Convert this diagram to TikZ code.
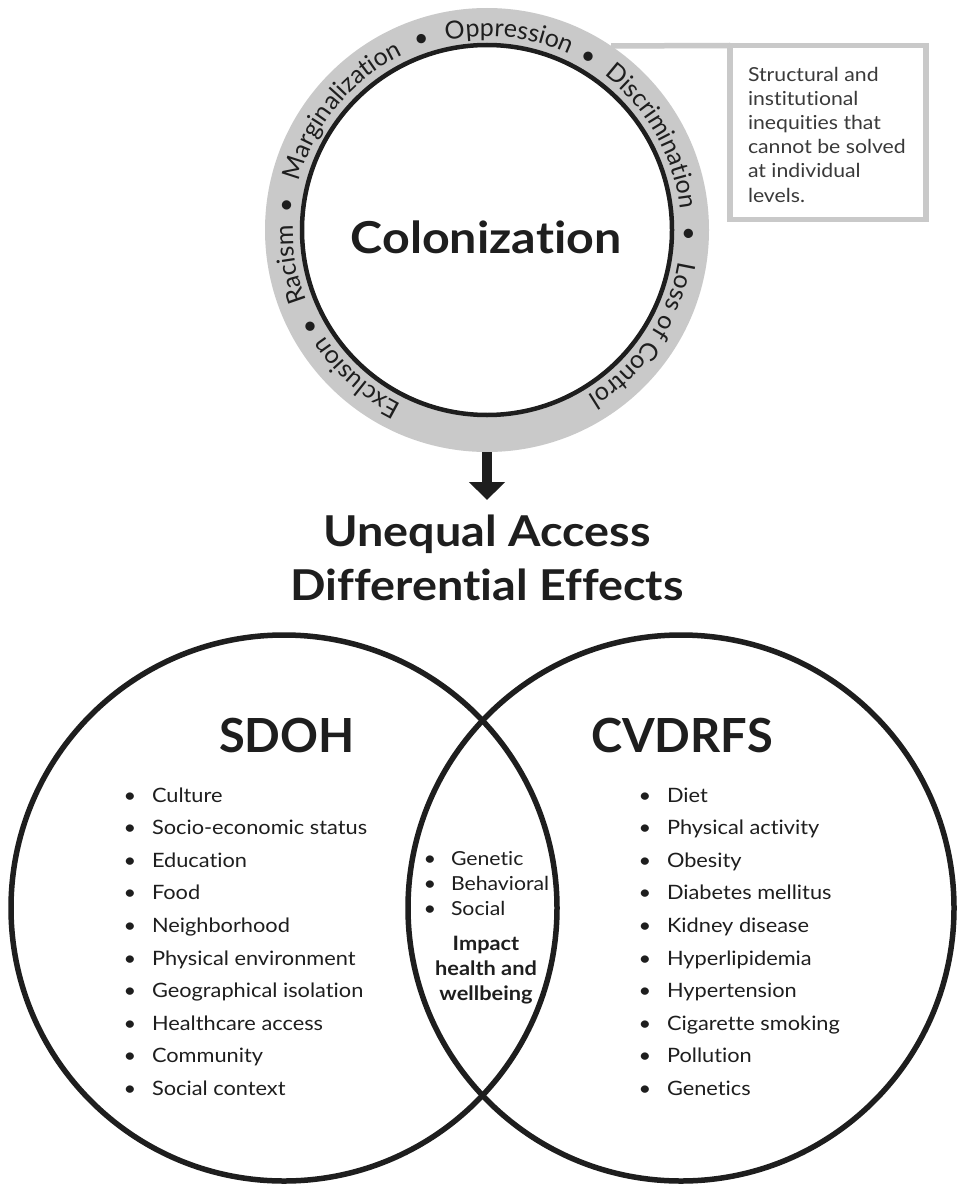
\documentclass[tikz,border=0pt]{standalone}
\usepackage{fontspec}
\setmainfont{Lato}[FakeStretch=1.1, Ligatures={NoCommon,NoContextual}]
\newfontfamily\plainlato{Lato}[Ligatures={NoCommon,NoContextual}]
\usetikzlibrary{decorations.text,arrows.meta}
\definecolor{ringgray}{HTML}{C9C9C9}
\definecolor{ink}{HTML}{1E1E1E}
\definecolor{notetext}{HTML}{3A3A3A}
\newcommand\ringfont{\plainlato\fontsize{25}{25}\selectfont\color{ink}}
\begin{document}
\begin{tikzpicture}[x=1pt,y=1pt,
  every node/.style={inner sep=0pt, outer sep=0pt, text=ink},
  ringword/.style={decorate, decoration={text along path, text align=center, text={|\ringfont|#1}}},
  heading/.style={font=\fontsize{42.5}{42.5}\selectfont\bfseries, anchor=base},
  bigword/.style={font=\plainlato\fontsize{47}{47}\selectfont\bfseries, anchor=base},
  listitem/.style={font=\fontsize{19.8}{24}\selectfont, anchor=base west},
  bul/.style={font=\fontsize{19.8}{24}\selectfont, anchor=base},
  lensitem/.style={font=\fontsize{19.3}{24}\selectfont, anchor=base west},
  lensbold/.style={font=\fontsize{19.8}{24}\selectfont\bfseries, anchor=base},
  noteline/.style={font=\fontsize{19.3}{24}\selectfont, anchor=base west, text=notetext},
  venn/.style={circle, draw=ink, line width=5.5pt, minimum size=546pt},
  grayline/.style={draw=ringgray, line width=5.5pt}]

% canvas
\fill[white] (0,0) rectangle (956,-1185);
\useasboundingbox (0,0) rectangle (956,-1185);

% ---- colonization ring ----
\node[circle, fill=ringgray, minimum size=444pt] (ring) at (487,-230) {};
\node[circle, draw=ink, fill=white, line width=4.5pt, minimum size=370pt] (core) at (487,-230) {};
\node[font=\fontsize{44}{44}\selectfont\bfseries, anchor=base] (colon) at (486,-253) {Colonization};

% words set along the gray band, read clockwise
\path[ringword={Exclusion}] ([shift={(268.5:194pt)}]ring.center) arc[start angle=268.5, end angle=188.5, radius=194pt];
\path[ringword={•}] ([shift={(248.7:194pt)}]ring.center) arc[start angle=248.7, end angle=168.7, radius=194pt];
\path[ringword={Racism}] ([shift={(230:194pt)}]ring.center) arc[start angle=230, end angle=150, radius=194pt];
\path[ringword={•}] ([shift={(213:194pt)}]ring.center) arc[start angle=213, end angle=133, radius=194pt];
\path[ringword={Marginalization}] ([shift={(180.5:194pt)}]ring.center) arc[start angle=180.5, end angle=100.5, radius=194pt];
\path[ringword={•}] ([shift={(149:194pt)}]ring.center) arc[start angle=149, end angle=69, radius=194pt];
\path[ringword={Oppression}] ([shift={(123.5:194pt)}]ring.center) arc[start angle=123.5, end angle=43.5, radius=194pt];
\path[ringword={•}] ([shift={(99.6:194pt)}]ring.center) arc[start angle=99.6, end angle=19.6, radius=194pt];
\path[ringword={Discrimination}] ([shift={(69.5:194pt)}]ring.center) arc[start angle=69.5, end angle=-10.5, radius=194pt];
\path[ringword={•}] ([shift={(39:194pt)}]ring.center) arc[start angle=39, end angle=-41, radius=194pt];
\path[ringword={Loss of Control}] ([shift={(6:194pt)}]ring.center) arc[start angle=6, end angle=-74, radius=194pt];

% ---- side note ----
\node[grayline, draw, minimum width=196pt, minimum height=174pt, anchor=north west] (note) at (730,-45.5) {};
\draw[grayline] (ring.56) -- (note.north west);
\node[noteline] (n1) at (748,-82) {Structural and};
\node[noteline] (n2) at (748,-106) {institutional};
\node[noteline] (n3) at (748,-130) {inequities that};
\node[noteline] (n4) at (748,-154) {cannot be solved};
\node[noteline] (n5) at (748,-178) {at individual};
\node[noteline] (n6) at (748,-202) {levels.};

% ---- arrow and heading ----
\node[heading] (t1) at (487,-546) {Unequal Access};
\node[heading] (t2) at (487,-600) {Differential Effects};
\coordinate (arrowtip) at (487,-500);
\draw[ink, line width=10pt, -{Triangle[width=35pt,length=18pt]}] (ring.south) -- (arrowtip);

% ---- Venn diagram ----
\node[venn] (sdoh) at (284,-908) {};
\node[venn] (cvd) at (681,-908) {};
\node[bigword] (sdohlabel) at (287,-752) {SDOH};
\node[bigword] (cvdlabel) at (682,-752) {CVDRFS};

\foreach \t [count=\i from 0] in {Culture, Socio-economic status, Education, Food, Neighborhood, Physical environment, Geographical isolation, Healthcare access, Community, Social context} {
  \node[bul] (sdb\i) at (130,-802-32.6*\i) {•};
  \node[listitem] (sd\i) at (152,-802-32.6*\i) {\t};
}
\foreach \t [count=\i from 0] in {Diet, Physical activity, Obesity, Diabetes mellitus, Kidney disease, Hyperlipidemia, Hypertension, Cigarette smoking, Pollution, Genetics} {
  \node[bul] (cvb\i) at (645,-802-32.6*\i) {•};
  \node[listitem] (cv\i) at (667,-802-32.6*\i) {\t};
}
\foreach \t [count=\i from 0] in {Genetic, Behavioral, Social} {
  \node[bul] (lnb\i) at (430,-865-25*\i) {•};
  \node[lensitem] (ln\i) at (451,-865-25*\i) {\t};
}
\node[lensbold] (imp1) at (486,-950.5) {Impact};
\node[lensbold] (imp2) at (486,-975.5) {health and};
\node[lensbold] (imp3) at (486,-1000.5) {wellbeing};
\end{tikzpicture}
\end{document}
